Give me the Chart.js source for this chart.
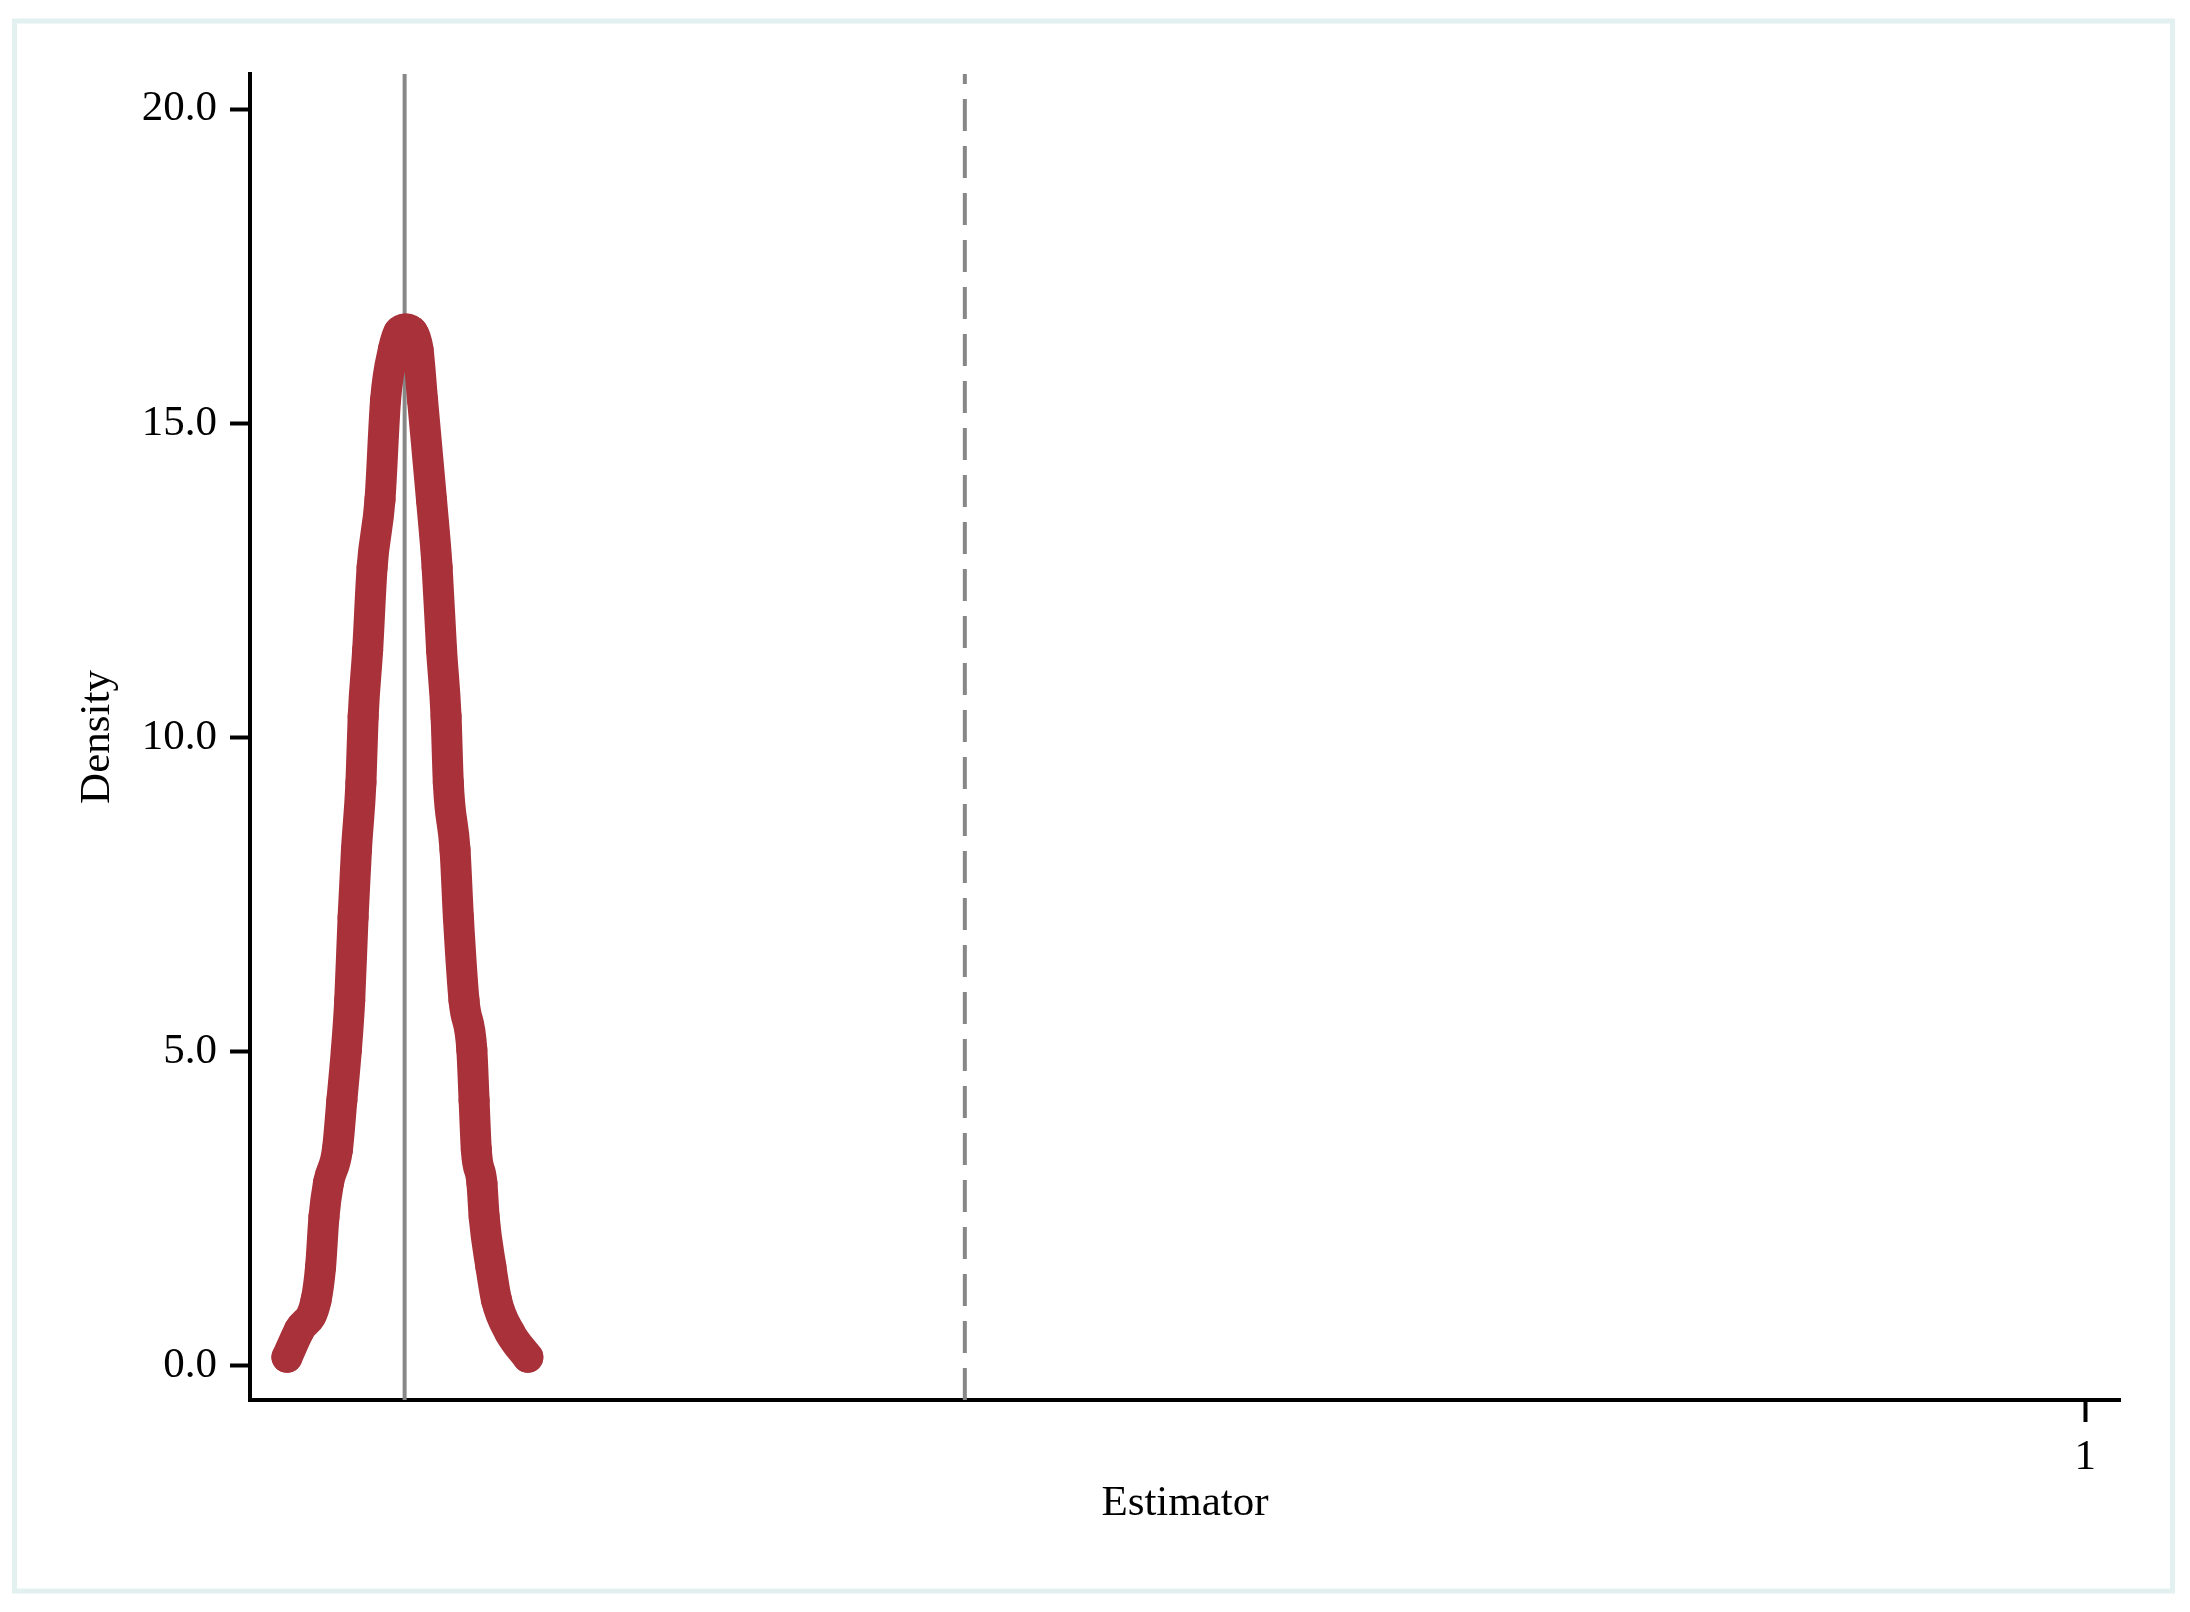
<!DOCTYPE html>
<html>
<head>
<meta charset="utf-8">
<title>Density of estimator</title>
<script src="https://cdn.jsdelivr.net/npm/chart.js@4.4.1/dist/chart.umd.min.js"></script>
<style>
  html, body { margin: 0; padding: 0; background: #fff; }
  canvas { display: block; }
</style>
</head>
<body>
<canvas id="densityChart" width="2190" height="1612"></canvas>
<script>
'use strict'

// density of the estimator (x = estimate, y = density)
const estimatorX = [
  -0.605, -0.594, -0.579, -0.575, -0.572, -0.568, -0.560, -0.556, -0.552, -0.549,
  -0.546, -0.543, -0.539, -0.537, -0.533, -0.529, -0.522, -0.517, -0.510, -0.505,
  -0.499, -0.493, -0.488, -0.484, -0.476, -0.471, -0.467, -0.463, -0.461, -0.455,
  -0.452, -0.447, -0.440, -0.438, -0.436, -0.431, -0.429, -0.423, -0.418, -0.406,
  -0.390
];
const densityY = [
   0.14,  0.57,  1.05,  1.58,  2.37,  2.91,  3.44,  4.23,  5.03,  5.82,
   7.14,  8.21,  9.28, 10.33, 11.39, 12.71, 13.78, 15.37, 16.17, 16.45,
  16.50, 16.45, 16.17, 15.37, 13.78, 12.71, 11.39, 10.33,  9.28,  8.21,
   7.14,  5.82,  5.03,  4.23,  3.44,  2.91,  2.37,  1.58,  1.05,  0.53,
   0.14
];

const meanLine = -0.5;   // solid grey line
const zeroLine = 0;      // dashed grey line
const yTicks = [0, 5, 10, 15, 20];
const xTicks = [1];

const xRange = [-0.638, 1.031];
const yRange = [-0.541, 20.557];

const serif = "'Liberation Serif', 'Times New Roman', serif";
const red = '#a8313a';
const grey = '#878787';

// light frame around the whole graph
const framePlugin = {
  id: 'frame',
  beforeDraw(chart) {
    const ctx = chart.ctx;
    ctx.save();
    ctx.fillStyle = '#ffffff';
    ctx.fillRect(0, 0, chart.width, chart.height);
    ctx.strokeStyle = '#e3f0f0';
    ctx.lineWidth = 5;
    ctx.strokeRect(14.5, 21, 2158, 1570);
    ctx.restore();
  }
};

const points = estimatorX.map((x, i) => ({ x: x, y: densityY[i] }));

function vline(x) {
  return [{ x: x, y: yRange[0] }, { x: x, y: yRange[1] }];
}

new Chart(document.getElementById('densityChart'), {
  type: 'scatter',
  data: {
    datasets: [
      {
        label: 'Density',
        data: points,
        showLine: true,
        cubicInterpolationMode: 'monotone',
        borderColor: red,
        backgroundColor: red,
        borderWidth: 31,
        borderJoinStyle: 'round',
        borderCapStyle: 'round',
        pointRadius: 15.5,
        pointBorderWidth: 0,
        pointHoverRadius: 15.5
      },
      {
        label: 'mean',
        data: vline(meanLine),
        showLine: true,
        borderColor: grey,
        borderWidth: 4,
        pointRadius: 0
      },
      {
        label: 'zero',
        data: vline(zeroLine),
        showLine: true,
        borderColor: grey,
        borderWidth: 4,
        borderDash: [32, 15],
        pointRadius: 0
      }
    ]
  },
  options: {
    responsive: false,
    animation: false,
    layout: { padding: { top: 74, right: 70, bottom: 0, left: 0 } },
    plugins: {
      legend: { display: false },
      tooltip: { enabled: false }
    },
    scales: {
      x: {
        type: 'linear',
        min: xRange[0],
        max: xRange[1],
        afterFit(scale) { scale.height = 212; },
        afterBuildTicks(scale) { scale.ticks = xTicks.map(v => ({ value: v })); },
        border: { display: true, color: '#000', width: 4 },
        grid: { drawOnChartArea: false, drawTicks: true, tickLength: 22, tickWidth: 4, tickColor: '#000' },
        ticks: {
          color: '#000',
          padding: 10,
          maxRotation: 0,
          font: { family: serif, size: 43, lineHeight: 1.2 },
          callback: v => String(v)
        },
        title: {
          display: true,
          text: 'Estimator',
          color: '#000',
          font: { family: serif, size: 43, lineHeight: 1.2 },
          padding: { top: 0, bottom: 82 }
        }
      },
      y: {
        type: 'linear',
        min: yRange[0],
        max: yRange[1],
        afterFit(scale) { scale.width = 250; },
        afterBuildTicks(scale) { scale.ticks = yTicks.map(v => ({ value: v })); },
        border: { display: true, color: '#000', width: 4 },
        grid: { drawOnChartArea: false, drawTicks: true, tickLength: 20, tickWidth: 4, tickColor: '#000' },
        ticks: {
          color: '#000',
          padding: 13,
          font: { family: serif, size: 43, lineHeight: 1.2 },
          callback: v => v.toFixed(1)
        },
        title: {
          display: true,
          text: 'Density',
          color: '#000',
          font: { family: serif, size: 43, lineHeight: 1.2 },
          padding: { top: 72, bottom: 0 }
        }
      }
    }
  },
  plugins: [framePlugin]
});
</script>
</body>
</html>
